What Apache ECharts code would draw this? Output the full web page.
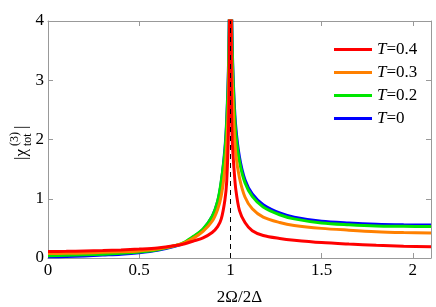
<!DOCTYPE html>
<html>
<head>
<meta charset="utf-8">
<script src="https://cdn.jsdelivr.net/npm/echarts@6/dist/echarts.min.js"></script>
<style>html,body{margin:0;padding:0;background:#fff}#c{width:436px;height:307px}</style>
</head>
<body>
<div id="c"></div>
<script>
var xs = [0, 0.1, 0.2, 0.3, 0.4, 0.5, 0.6, 0.7, 0.75, 0.8, 0.85, 0.9, 0.93, 0.95, 0.97, 0.98, 0.99, 0.995, 1.0, 1.005, 1.01, 1.02, 1.03, 1.05, 1.08, 1.12, 1.18, 1.27, 1.35, 1.5, 1.65, 1.8, 1.95, 2.1];
var blueT0 = [0.02,0.025,0.035,0.05,0.065,0.09,0.13,0.2,0.26,0.36,0.48,0.7,0.95,1.28,1.85,2.35,3.3,4.6,9, 4.8,3.6,2.7,2.2,1.7,1.32,1.08,0.9,0.76,0.69,0.62,0.59,0.57,0.56,0.555];
var greenT02 = [0.04,0.045,0.055,0.065,0.08,0.1,0.14,0.21,0.27,0.37,0.49,0.7,0.96,1.3,1.8,2.3,3.2,4.5,9, 4.6,3.5,2.6,2.1,1.63,1.27,1.04,0.86,0.73,0.66,0.59,0.56,0.54,0.535,0.53];
var orangeT03 = [0.075,0.08,0.085,0.095,0.105,0.12,0.15,0.21,0.26,0.34,0.45,0.62,0.82,1.05,1.5,1.9,2.7,3.9,9, 4.0,3.0,2.2,1.75,1.35,1.03,0.83,0.69,0.6,0.55,0.5,0.47,0.445,0.43,0.42];
var redT04 = [0.11,0.112,0.118,0.125,0.135,0.15,0.17,0.21,0.24,0.29,0.34,0.43,0.53,0.66,0.98,1.3,2.2,3.4,9, 3.0,2.0,1.5,1.15,0.8,0.6,0.46,0.38,0.33,0.3,0.26,0.235,0.215,0.2,0.19];
var seriesNames = ['T=0.4', 'T=0.3', 'T=0.2', 'T=0'];
var xTicks = [0, 0.5, 1, 1.5, 2];
var yTicks = [0, 1, 2, 3, 4];

function pairs(v){ return xs.map(function(x,i){ return [x, v[i]]; }); }
var serif = '"Liberation Serif", "Times New Roman", Times, "DejaVu Serif", serif';
var axisCol = '#999';
var chart = echarts.init(document.getElementById('c'), null, {renderer:'canvas'});
function mk(name, data, color, extra){
  var s = {name:name, type:'line', data:pairs(data), showSymbol:false, symbol:'none', smooth:0.3, clip:true,
    lineStyle:{color:color, width:3}, itemStyle:{color:color}, xAxisIndex:0, yAxisIndex:0};
  if (extra) for (var k in extra) s[k]=extra[k];
  return s;
}
chart.setOption({
  animation:false,
  grid:{left:48, right:5, top:21, bottom:49, show:false, containLabel:false, outerBoundsMode:'none'},
  legend:{
    orient:'vertical', left:329, top:36, itemWidth:38, itemHeight:3, itemGap:6, icon:'rect',
    data:seriesNames,
    formatter:function(n){ return '{i|T}{n|' + n.slice(1) + '}'; },
    textStyle:{fontFamily:serif, fontSize:17, color:'#000',
      rich:{i:{fontFamily:serif, fontStyle:'italic', fontSize:17, color:'#000'}, n:{fontFamily:serif, fontSize:17, color:'#000'}}}
  },
  xAxis:[{
    type:'value', min:0, max:2.1, interval:0.5, position:'bottom',
    name:'2Ω/2Δ', nameLocation:'middle', nameGap:31,
    nameTextStyle:{fontFamily:serif, fontSize:17, color:'#000'},
    axisLine:{show:true, onZero:false, lineStyle:{color:axisCol}},
    axisTick:{show:true, inside:true, length:5, lineStyle:{color:axisCol}},
    splitLine:{show:false},
    axisLabel:{margin:4, fontFamily:serif, fontSize:17, color:'#000', showMaxLabel:false,
      formatter:function(v){ return xTicks.indexOf(v) >= 0 ? String(v) : ''; }}
  },{
    type:'value', min:0, max:2.1, interval:0.5, position:'top',
    axisLine:{show:true, onZero:false, lineStyle:{color:axisCol}},
    axisTick:{show:true, inside:true, length:5, lineStyle:{color:axisCol}},
    splitLine:{show:false}, axisLabel:{show:false}
  }],
  yAxis:[{
    type:'value', min:0, max:4, interval:1, position:'left',
    axisLine:{show:true, onZero:false, lineStyle:{color:axisCol}},
    axisTick:{show:true, inside:true, length:5, lineStyle:{color:axisCol}},
    splitLine:{show:false},
    axisLabel:{margin:4, fontFamily:serif, fontSize:17, color:'#000',
      formatter:function(v){ return yTicks.indexOf(v) >= 0 ? String(v) : ''; }}
  },{
    type:'value', min:0, max:4, interval:1, position:'right',
    axisLine:{show:true, onZero:false, lineStyle:{color:axisCol}},
    axisTick:{show:true, inside:true, length:5, lineStyle:{color:axisCol}},
    splitLine:{show:false}, axisLabel:{show:false}
  }],
  graphic:[{
    type:'group', x:22, y:141, rotation:Math.PI/2,
    children:[
      {type:'text', x:-19, y:0, style:{text:'|χ', font:'17px "Liberation Serif", "Times New Roman", serif', fill:'#000', textVerticalAlign:'middle', textAlign:'left'}},
      {type:'text', x:-5, y:-7, style:{text:'(3)', font:'12px "Liberation Serif", "Times New Roman", serif', fill:'#000', textVerticalAlign:'middle', textAlign:'left'}},
      {type:'text', x:-5, y:6, style:{text:'tot', font:'12px "Liberation Serif", "Times New Roman", serif', fill:'#000', textVerticalAlign:'middle', textAlign:'left'}},
      {type:'text', x:12, y:0, style:{text:'|', font:'17px "Liberation Serif", "Times New Roman", serif', fill:'#000', textVerticalAlign:'middle', textAlign:'left'}}
    ]
  }],
  series:[
    mk('T=0', blueT0, '#0000ff', {markLine:{silent:true, symbol:'none', label:{show:false},
      lineStyle:{color:'#000', type:[5,4], width:1}, data:[{xAxis:1}]}}),
    mk('T=0.2', greenT02, '#00e600'),
    mk('T=0.3', orangeT03, '#ff8000'),
    mk('T=0.4', redT04, '#ff0000')
  ]
});
</script>
</body>
</html>
